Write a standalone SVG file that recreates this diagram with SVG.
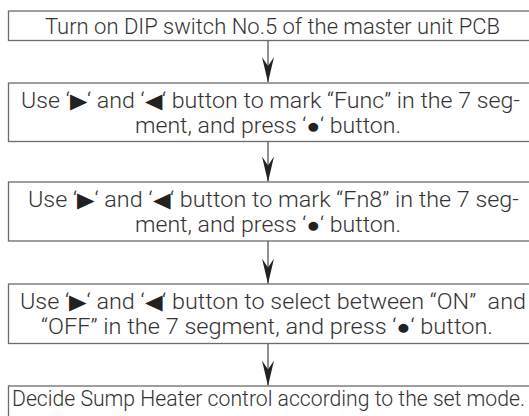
<svg xmlns="http://www.w3.org/2000/svg" width="529" height="416" viewBox="0 0 529 416">
<style>
  .box { fill: #ffffff; stroke: #6b6b6b; stroke-width: 1.3; }
  .t { font-family: Roboto, "Liberation Sans", "DejaVu Sans", sans-serif; font-weight: 300; font-size: 21.5px; fill: #333333; text-anchor: middle; white-space: pre; }
  .g { font-family: "DejaVu Sans", sans-serif; font-size: 21px; fill: #222222; }
  .conn { stroke: #555555; stroke-width: 1.3; fill: none; }
  .head { fill: #222222; }
</style>
<rect width="529" height="416" fill="#ffffff"/>
<g id="connectors">
  <line class="conn" x1="268" y1="40.5" x2="268" y2="82"/>
  <path class="head" d="M268,82.5 L262,57 L268,66 L274,57 Z"/>
  <line class="conn" x1="268" y1="141.5" x2="268" y2="181.5"/>
  <path class="head" d="M268,182 L262,156.5 L268,165.5 L274,156.5 Z"/>
  <line class="conn" x1="268" y1="241" x2="268" y2="283.5"/>
  <path class="head" d="M268,284 L262,258.5 L268,267.5 L274,258.5 Z"/>
  <line class="conn" x1="268" y1="343.5" x2="268" y2="385.5"/>
  <path class="head" d="M268,386 L262,360.5 L268,369.5 L274,360.5 Z"/>
</g>
<g id="step1">
  <rect class="box" x="8.5" y="11" width="523" height="29.5"/>
  <text class="t" x="272.5" y="34" textLength="455" lengthAdjust="spacingAndGlyphs">Turn on DIP switch No.5 of the master unit PCB</text>
</g>
<g id="step2">
  <rect class="box" x="8.5" y="83" width="523" height="58.5"/>
  <text class="t" x="270.5" y="108" textLength="499" lengthAdjust="spacingAndGlyphs">Use ‘<tspan class="g">▶</tspan>‘ and ‘<tspan class="g">◀</tspan>‘ button to mark “Func” in the 7 seg-</text>
  <text class="t" x="268" y="133" textLength="266" lengthAdjust="spacingAndGlyphs">ment, and press ‘<tspan class="g">●</tspan>‘ button.</text>
</g>
<g id="step3">
  <rect class="box" x="8.5" y="182" width="523" height="59"/>
  <text class="t" x="273.5" y="207" textLength="491" lengthAdjust="spacingAndGlyphs">Use ‘<tspan class="g">▶</tspan>‘ and ‘<tspan class="g">◀</tspan>‘ button to mark “Fn8” in the 7 seg-</text>
  <text class="t" x="268" y="232" textLength="266" lengthAdjust="spacingAndGlyphs">ment, and press ‘<tspan class="g">●</tspan>‘ button.</text>
</g>
<g id="step4">
  <rect class="box" x="8.5" y="284" width="523" height="59.5"/>
  <text class="t" x="273" y="309" textLength="506" lengthAdjust="spacingAndGlyphs">Use ‘<tspan class="g">▶</tspan>‘ and ‘<tspan class="g">◀</tspan>‘ button to select between “ON”  and</text>
  <text class="t" x="267" y="334" textLength="452" lengthAdjust="spacingAndGlyphs">“OFF” in the 7 segment, and press ‘<tspan class="g">●</tspan>‘ button.</text>
</g>
<g id="step5">
  <rect class="box" x="8.5" y="386" width="523" height="31"/>
  <text class="t" x="268.5" y="406" textLength="513" lengthAdjust="spacingAndGlyphs">Decide Sump Heater control according to the set mode.</text>
</g>
</svg>
